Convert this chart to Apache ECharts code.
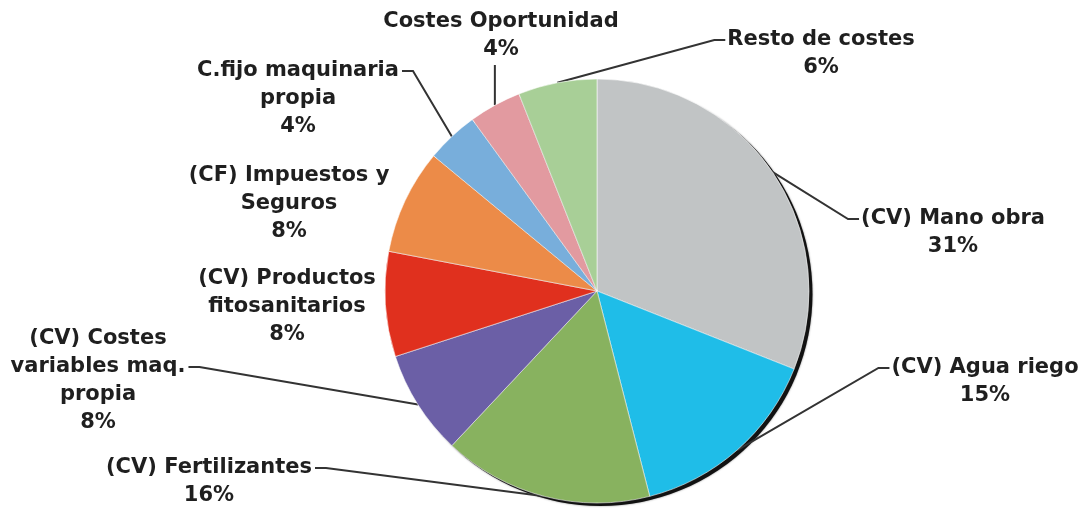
<!DOCTYPE html>
<html>
<head>
<meta charset="utf-8">
<script src="https://cdn.jsdelivr.net/npm/echarts@6/dist/echarts.min.js"></script>
<style>
  html, body { margin: 0; padding: 0; background: #ffffff; }
  #chart { width: 1083px; height: 510px; }
</style>
</head>
<body>
<div id="chart"></div>
<script>
// Cost structure, clockwise from 12 o'clock
const categories = [
  '(CV) Mano obra',
  '(CV) Agua riego',
  '(CV) Fertilizantes',
  '(CV) Costes\nvariables maq.\npropia',
  '(CV) Productos\nfitosanitarios',
  '(CF) Impuestos y\nSeguros',
  'C.fijo maquinaria\npropia',
  'Costes Oportunidad',
  'Resto de costes'
];
const shares = [31, 15, 16, 8, 8, 8, 4, 4, 6];
const sliceColors = [
  '#c1c4c5', '#1fbde8', '#88b25f', '#6b5fa6', '#e0301e',
  '#ec8b48', '#78aedb', '#e29aa0', '#a8cf97'
];

// Label placement: centre x of the text block, centre y of its first line
const labelAnchors = [
  [953, 219], [985, 368], [209, 468], [98, 339], [287, 279],
  [289, 176], [298, 71], [501, 22], [821, 40]
];
// Where the leader line meets the text: line index and side (null = no line)
const leaderSpec = [
  { line: 0, side: 'left' },
  { line: 0, side: 'left' },
  { line: 0, side: 'right' },
  { line: 1, side: 'right' },
  null,
  null,
  { line: 0, side: 'right' },
  { side: 'below' },
  { line: 0, side: 'left' }
];

const CX = 597, CY = 291, R = 212;
const FONT_SIZE = 21, LINE_H = 28;
const FONT_FAMILY = '"DejaVu Sans", sans-serif';

const measureCtx = document.createElement('canvas').getContext('2d');
measureCtx.font = 'bold ' + FONT_SIZE + 'px ' + FONT_FAMILY;

function edgePoint(idx) {
  const total = shares.reduce((a, b) => a + b, 0);
  let before = 0;
  for (let k = 0; k < idx; k++) before += shares[k];
  const mid = ((before + shares[idx] / 2) / total) * Math.PI * 2;
  return [CX + R * Math.sin(mid), CY - R * Math.cos(mid)];
}

const chart = echarts.init(document.getElementById('chart'), null, { renderer: 'canvas' });

chart.setOption({
  backgroundColor: '#ffffff',
  animation: false,
  series: [
    {
      // dark rim under the pie
      type: 'pie',
      silent: true,
      center: [CX + 3.5, CY + 3],
      radius: R,
      label: { show: false },
      labelLine: { show: false },
      itemStyle: { color: '#121212', shadowBlur: 2, shadowColor: 'rgba(0,0,0,0.5)' },
      data: [{ value: 1, name: 'rim' }],
      z: 1
    },
    {
      type: 'pie',
      center: [CX, CY],
      radius: R,
      startAngle: 90,
      clockwise: true,
      avoidLabelOverlap: false,
      z: 2,
      itemStyle: { borderColor: 'rgba(255,255,255,0.7)', borderWidth: 0.8 },
      label: {
        show: true,
        position: 'outside',
        formatter: p => p.name + '\n' + p.value + '%',
        color: '#1f1f1f',
        fontFamily: FONT_FAMILY,
        fontWeight: 'bold',
        fontSize: FONT_SIZE,
        lineHeight: LINE_H,
        align: 'center'
      },
      labelLine: {
        show: true,
        length: 10,
        length2: 10,
        lineStyle: { color: '#333333', width: 2 }
      },
      labelLayout: function (params) {
        const i = params.dataIndex;
        const anchor = labelAnchors[i];
        const top = anchor[1] - LINE_H / 2;
        const out = { x: anchor[0], y: top, align: 'center', verticalAlign: 'top' };
        const spec = leaderSpec[i];
        if (spec) {
          const start = (params.labelLinePoints && params.labelLinePoints[0]) || edgePoint(i);
          let end, elbow;
          if (spec.side === 'below') {
            const lineCount = categories[i].split('\n').length + 1;
            end = [start[0], top + lineCount * LINE_H + 1];
            elbow = [start[0], (start[1] + end[1]) / 2];
          } else {
            const text = categories[i].split('\n')[spec.line];
            const w = measureCtx.measureText(text).width;
            const ly = top + spec.line * LINE_H + LINE_H / 2;
            if (spec.side === 'left') {
              end = [anchor[0] - w / 2 - 2, ly];
              elbow = [end[0] - 11, ly];
            } else {
              end = [anchor[0] + w / 2 + 3, ly];
              elbow = [end[0] + 11, ly];
            }
          }
          out.labelLinePoints = [start, elbow, end];
        }
        return out;
      },
      data: categories.map((name, i) => ({
        name: name,
        value: shares[i],
        itemStyle: { color: sliceColors[i] },
        labelLine: { show: leaderSpec[i] !== null }
      }))
    }
  ]
});
</script>
</body>
</html>
